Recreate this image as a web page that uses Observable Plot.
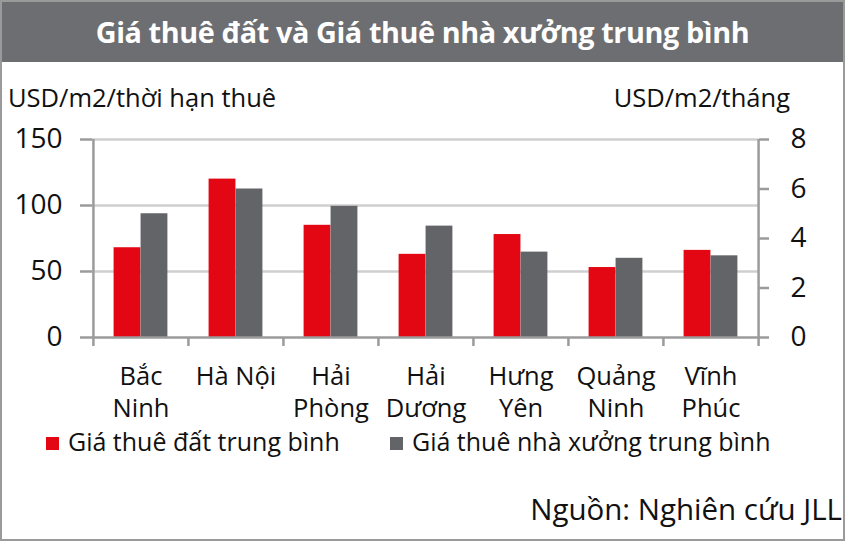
<!DOCTYPE html>
<html><head><meta charset="utf-8">
<script src="https://cdn.jsdelivr.net/npm/d3@7"></script>
<script src="https://cdn.jsdelivr.net/npm/@observablehq/plot@0.6"></script>
<style>
body{margin:0;background:#fff;}
#wrap{position:relative;width:845px;height:541px;overflow:hidden;font-family:"Open Sans",sans-serif;color:#111;background:#fff;}
#title{position:absolute;left:0;top:0;width:845px;height:62px;background:#6d6e71;color:#fff;font-weight:700;font-size:28.8px;display:flex;align-items:center;justify-content:center;letter-spacing:-0.4px;}
.lab{position:absolute;white-space:nowrap;font-size:25.5px;line-height:1;}
#chart{position:absolute;left:0;top:62px;}
#chart svg{overflow:visible;}
#legend{position:absolute;top:431px;left:46px;font-size:25px;line-height:0.8;white-space:nowrap;}
.li{position:absolute;top:0;white-space:nowrap;}
.sw{display:inline-block;width:13px;height:13px;margin-right:9px;vertical-align:1px;}
#source{position:absolute;right:3px;top:494px;font-size:29.5px;line-height:1;white-space:nowrap;}
#border{position:absolute;left:0;top:0;width:845px;height:541px;box-sizing:border-box;border:2px solid #9a9a9a;pointer-events:none;}
</style>
</head><body>
<div id="wrap">
  <div id="title"></div>
  <div class="lab" id="ylab1" style="left:8px;top:85px;"></div>
  <div class="lab" id="ylab2" style="right:55px;top:85px;"></div>
  <div id="chart"></div>
  <div id="legend"></div>
  <div id="source"></div>
  <div id="border"></div>
</div>
<script>
const titleText = "Giá thuê đất và Giá thuê nhà xưởng trung bình";
const leftAxisTitle = "USD/m2/thời hạn thuê";
const rightAxisTitle = "USD/m2/tháng";
const sourceText = "Nguồn: Nghiên cứu JLL";
const categories = ["Bắc Ninh", "Hà Nội", "Hải Phòng", "Hải Dương", "Hưng Yên", "Quảng Ninh", "Vĩnh Phúc"];
const categoryLabels = ["Bắc\nNinh", "Hà Nội", "Hải\nPhòng", "Hải\nDương", "Hưng\nYên", "Quảng\nNinh", "Vĩnh\nPhúc"];
const seriesNames = ["Giá thuê đất trung bình", "Giá thuê nhà xưởng trung bình"];
const landRent = [68, 120, 85, 63, 78, 53, 66];          // USD/m2/thời hạn thuê (left axis)
const factoryRent = [5.0, 6.0, 5.3, 4.5, 3.45, 3.2, 3.3]; // USD/m2/tháng (right axis)
const leftTicks = [0, 50, 100, 150];
const rightTicks = [0, 2, 4, 6, 8];
const colors = ["#e30613", "#636467"];

document.getElementById("title").textContent = titleText;
document.getElementById("ylab1").textContent = leftAxisTitle;
document.getElementById("ylab2").textContent = rightAxisTitle;
document.getElementById("source").textContent = sourceText;

const leftMax = d3.max(leftTicks), rightMax = d3.max(rightTicks);
const toLeft = v => v * leftMax / rightMax;

const W = 845, H = 370, mL = 92, mR = 87, mT = 77, mB = 95;
const bw = (W - mL - mR) / categories.length;
const pair = 0.567 * bw, side = (bw - pair) / 2;
const rows = categories.map((c, i) => ({c, label: categoryLabels[i], land: landRent[i], factory: factoryRent[i]}));
const labelOf = new Map(rows.map(r => [r.c, r.label]));
const axisColor = "#9b9b9b";

const chart = Plot.plot({
  width: W, height: H,
  marginLeft: mL, marginRight: mR, marginTop: mT, marginBottom: mB,
  style: {fontFamily: "'Open Sans', sans-serif", color: "#111", background: "transparent", overflow: "visible"},
  x: {domain: categories, padding: 0},
  y: {domain: [0, leftMax]},
  marks: [
    Plot.ruleY(leftTicks.filter(d => d > 0), {stroke: "#cfcfcf", strokeWidth: 2.5}),
    Plot.barY(rows, {x: "c", y: "land", fill: colors[0], insetLeft: side, insetRight: side + pair / 2}),
    Plot.barY(rows, {x: "c", y: d => toLeft(d.factory), fill: colors[1], insetLeft: side + pair / 2, insetRight: side}),
    // axis lines
    Plot.ruleY([0], {stroke: axisColor, strokeWidth: 2.5}),
    Plot.ruleX([categories[0]], {dx: -bw / 2, y1: 0, y2: leftMax, stroke: axisColor, strokeWidth: 2.5}),
    Plot.ruleX([categories[categories.length - 1]], {dx: bw / 2, y1: 0, y2: leftMax, stroke: axisColor, strokeWidth: 2.5}),
    // category boundary ticks
    Plot.ruleX(categories, {x: d => d, dx: -bw / 2, y1: 0, y2: 0, insetBottom: -9, stroke: axisColor, strokeWidth: 2.5}),
    Plot.ruleX([categories[categories.length - 1]], {dx: bw / 2, y1: 0, y2: 0, insetBottom: -9, stroke: axisColor, strokeWidth: 2.5}),
    Plot.axisY(leftTicks, {anchor: "left", tickSize: 12, tickPadding: 18, fontSize: 28, stroke: axisColor, strokeWidth: 2.5, label: null}),
    Plot.axisY(rightTicks, {y: toLeft, anchor: "right", tickSize: 10, tickPadding: 22, fontSize: 28, stroke: axisColor, strokeWidth: 2.5, text: d => String(d), label: null}),
    Plot.axisX({anchor: "bottom", tickSize: 0, tickPadding: 24, fontSize: 25.5, lineHeight: 1.28, tickFormat: d => labelOf.get(d), label: null})
  ]
});
document.getElementById("chart").appendChild(chart);

const legend = document.getElementById("legend");
const legendX = [0, 344];
seriesNames.forEach((name, i) => {
  const item = document.createElement("div");
  item.className = "li";
  item.style.left = legendX[i] + "px";
  const sw = document.createElement("span");
  sw.className = "sw";
  sw.style.background = colors[i];
  item.appendChild(sw);
  item.appendChild(document.createTextNode(name));
  legend.appendChild(item);
});
</script>
</body></html>
